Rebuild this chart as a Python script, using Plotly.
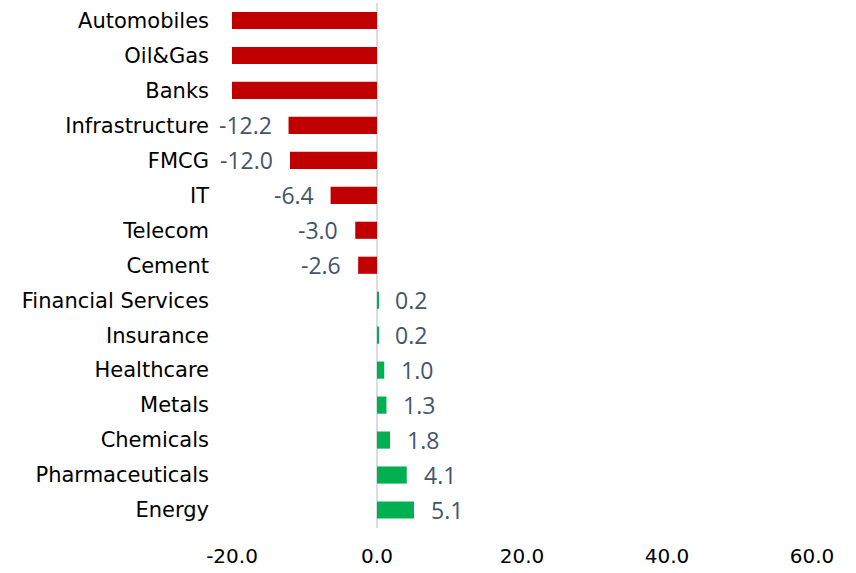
import plotly.graph_objects as go

categories = ["Automobiles", "Oil&Gas", "Banks", "Infrastructure", "FMCG", "IT",
              "Telecom", "Cement", "Financial Services", "Insurance", "Healthcare",
              "Metals", "Chemicals", "Pharmaceuticals", "Energy"]
# first three values lie beyond the axis minimum (labels not visible in the source)
values = [-30.0, -26.0, -22.0, -12.2, -12.0, -6.4, -3.0, -2.6,
          0.2, 0.2, 1.0, 1.3, 1.8, 4.1, 5.1]
x_ticks = [-20, 0, 20, 40, 60]
x_range = [-20, 60]

NEG = "#C00000"
POS = "#00B050"
colors = [NEG if v < 0 else POS for v in values]

fig = go.Figure(go.Bar(
    x=values, y=categories, orientation="h",
    marker=dict(color=colors, line=dict(width=0)),
    cliponaxis=True, hoverinfo="skip",
))

annotations = []
for c, v in zip(categories, values):
    if v < x_range[0] or v > x_range[1]:
        continue
    annotations.append(dict(
        x=v, y=c, xref="x", yref="y", text=f"{v:.1f}", showarrow=False,
        xanchor="right" if v < 0 else "left",
        xshift=-15 if v < 0 else 15,
        font=dict(family="Open Sans", size=23, color="#44546A"),
    ))

fig.update_layout(
    width=856, height=573,
    margin=dict(l=232, r=44, t=3, b=45),
    paper_bgcolor="white", plot_bgcolor="white",
    bargap=0.51, showlegend=False,
    annotations=annotations,
)
fig.update_xaxes(
    range=x_range, tickvals=x_ticks, ticktext=[f"{t:.1f}" for t in x_ticks],
    showgrid=False, zeroline=True, zerolinecolor="#D9DCE3", zerolinewidth=1.5,
    showline=False, ticks="", ticklabelstandoff=14,
    tickfont=dict(family="DejaVu Sans", size=20, color="#000000"),
)
fig.update_yaxes(
    categoryorder="array", categoryarray=categories, autorange="reversed",
    showgrid=False, showline=False, ticks="", ticklabelstandoff=22,
    tickfont=dict(family="DejaVu Sans", size=21, color="#000000"),
)

fig.write_html("out.html",
               config={"displayModeBar": False},
               post_script="document.body.style.margin='0';document.body.style.overflow='hidden';")
